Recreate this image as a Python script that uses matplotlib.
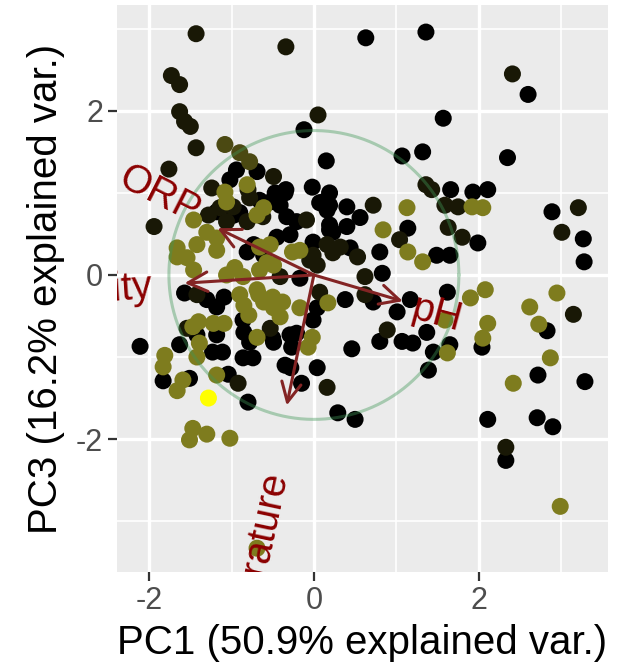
import numpy as np
import matplotlib.pyplot as plt
from matplotlib.colors import LinearSegmentedColormap

# PCA scores (PC1, PC3) and the colour variable (0 = black ... 1 = yellow)
pc1 = [-1.43, -1.73, -1.63, -1.63, -1.57, -1.50, -1.43, -1.76, -1.08, -0.90, -0.78, -0.94, -0.69, -0.49, -0.81, -1.02, -1.24, -1.08,
       -0.34, 0.63, 1.36, 0.05, -0.12, 0.15, 1.07, 1.32, 1.57, 1.36, -0.02, -0.34, 2.41, 2.60, 2.35, 1.66, 1.93, 2.11,
       2.89, 3.21, 3.01, 3.27, 3.28, 1.99, 1.65, 1.80, 1.63, 1.75, 1.92, 2.05, 2.08, 1.90, 2.11, 2.04, 2.05, 2.62, 2.95,
       3.15, 2.83, 2.73, 2.87, 2.72, 2.42, 3.29, 1.65, 1.62, 1.59, 1.62, 2.11, 2.71, 2.90, 2.33, 2.33, 2.99, -0.69,
       -2.11, -1.81, -1.83, -1.83, -1.51, -1.59, -1.66, -1.28, -0.92, -1.04, -1.18, -0.80, -1.47, -1.30, -1.51, -1.02,
       -1.63, -1.39, -1.42, -1.23, -1.11, -0.86, -0.74, -0.50, -0.27, -0.28, -0.15, 0.04, 0.16, 0.29, 0.50, -0.02, -0.07,
       0.46, 0.80, 0.89, 1.07, 1.20, 1.39, 1.45,
       -1.94, -1.66, -1.54, -1.46, -1.66, -1.42, -1.30, -1.18, -1.18, -1.46, -1.28, -1.18, -1.06, -0.97, -1.06, -0.78,
       -0.69, -0.61, -0.53, -0.81, -0.73, -0.53, -0.81, -0.61, -0.49, -1.06, -0.96, -1.57, -1.42, -1.30, -1.09, -1.18,
       -0.90, -0.85, -0.67, -0.79, -0.61, -0.49, -1.40, -1.22, -1.09, -1.54, -1.42, -1.18, -0.85, -0.78, -0.53, -0.49,
       0.56, 0.72, 1.13, 1.14, 0.84, 1.04, 1.14, 1.32, 1.49, -0.09, 0.11, 0.19, 0.19, 0.23, 0.44, 0.53, 0.80, 0.83,
       0.62, 0.62, 0.72, 0.38, 0.17, 1.17, 1.01, -0.29, -0.35, 1.37, -0.26, -0.01, 0.04, 0.07, 0.04, -0.17, -0.38,
       0.16, -0.01, -0.29, -0.21, -0.41,
       -0.47, -0.35, -0.66, -0.62, -0.33, -0.45, -0.17, -0.05, 0.07, 0.16, 0.19, -0.98, -0.90, -0.80, -1.14, -0.66,
       -0.57, -0.86, -0.66, -0.41, -0.17, -0.69, -0.50, -0.41, -0.01, -0.86, -0.69, -0.21, -1.47, 0.19, 0.40, 0.40,
       0.32, 0.23, 1.43, 1.59]
pc3 = [2.94, 2.43, 2.32, 1.99, 1.87, 1.81, 1.55, 1.29, 1.59, 1.49, 1.38, 1.28, 1.26, 1.20, 1.10, 1.16, 1.06, 1.01,
       2.78, 2.89, 2.96, 1.95, 1.77, 1.39, 1.45, 1.50, 1.91, 1.10, 1.07, 1.04, 2.45, 2.20, 1.43, 1.04, 1.01, 1.04,
       0.77, 0.82, 0.52, 0.44, 0.16, 0.39, 0.24, 0.46, 0.58, 0.83, 0.83, 0.82, -0.18, -0.28, -0.59, -0.88, -0.77, -0.39, -0.22,
       -0.48, -0.68, -0.60, -1.01, -1.22, -1.32, -1.30, -0.85, -0.95, -0.55, -0.21, -1.76, -1.74, -1.85, -2.26, -2.10, -2.82, -3.33,
       -0.87, -0.98, -1.12, -1.29, -1.26, -1.28, -1.41, -1.50, -1.32, -1.21, -1.22, -1.55, -1.87, -1.94, -2.01, -1.99,
       -0.85, -0.83, -1.00, -0.94, -0.94, -1.01, -1.01, -0.77, -0.88, -1.13, -1.32, -1.13, -1.37, -1.68, -1.76, -0.76, -0.88,
       -0.90, -0.81, -0.67, -0.81, -0.83, -1.16, -0.94,
       0.59, 0.33, 0.21, 0.06, 0.22, 0.37, 0.52, 0.45, 0.30, 0.67, 0.73, 0.77, 0.65, 0.73, 0.89, 0.94,
       0.73, 0.82, 0.89, 0.65, 0.37, 0.37, 0.28, 0.24, 0.12, 0.00, 0.09, -0.22, -0.24, -0.30, -0.27, -0.39,
       -0.24, -0.37, -0.24, -0.49, -0.33, -0.40, -0.57, -0.59, -0.59, -0.65, -0.73, -0.73, -0.70, -0.82, -0.65, -0.82,
       0.70, 0.85, 0.82, 0.57, 0.55, 0.43, 0.28, 0.16, 0.24, 0.67, 0.89, 0.85, 0.61, 0.52, 0.33, 0.22, 0.28, 0.02,
       -0.02, -0.24, -0.33, -0.30, -0.34, -0.30, -0.45, -0.73, -1.10, -0.70, 0.28, 0.24, 0.12, -0.21, -0.40, -0.40, -0.33,
       0.37, 0.40, 0.49, 0.65, 0.85,
       1.00, 1.00, 0.91, 0.71, 0.71, 0.46, 0.30, 0.18, 0.88, 0.79, 0.55, 0.83, 0.76, 1.04, 0.82, 0.34,
       0.15, -0.02, 0.06, -0.02, -0.04, -0.18, -0.27, -0.51, -0.55, -0.55, -0.76, -0.71, -0.63, 1.00, 0.83, 0.59,
       0.34, 0.27, 1.04, 0.85]
shade = [.1, .1, .1, .1, .1, .1, .1, .1, .3, .3, .3, 0, 0, .1, .5, 0, .1, .5,
         .1, 0, 0, .1, 0, 0, 0, 0, 0, .1, 0, 0, .1, 0, 0, 0, 0, 0,
         0, .1, .1, 0, 0, 0, 0, .1, .1, .1, .5, .5, .5, .5, .5, 0, .5, .5, .5,
         .1, 0, .5, .5, 0, .5, 0, 0, .5, .5, 0, 0, 0, 0, 0, .1, .5, .5,
         0, .5, .5, 0, 0, .5, .5, 1, .1, 0, .5, 0, .5, .5, .5, .5,
         0, .5, .5, 0, 0, 0, 0, 0, 0, 0, 0, 0, .1, 0, 0, .5, .5,
         0, 0, .1, 0, 0, 0, 0,
         .1, .5, .5, .5, .5, .5, .5, .5, .5, .5, .1, 0, .1, 0, .5, .1,
         .5, .5, 0, .1, 0, .5, 0, 0, .5, .5, .5, 0, .1, 0, 0, 0,
         .5, .5, .5, .5, .5, .5, .5, .5, .5, .1, 0, 0, 0, 0, .1, 0,
         0, .1, .5, 0, .5, .1, .5, .5, 0, .1, 0, 0, 0, 0, 0, .1, 0, 0,
         .1, .1, 0, 0, .5, 0, 0, 0, 0, 0, .5, .1, .1, .1, 0, .5, .5,
         .1, 0, 0, 0, 0,
         0, 0, 0, .1, 0, 0, .5, .1, 0, 0, 0, .1, 0, .1, .1, .5,
         .5, .5, .5, .1, 0, .5, .5, .5, 0, 0, .5, 0, .5, 0, 0, 0,
         .1, .1, .1, .1]

# variable loadings (arrow tips)
var_names = ['ORP', 'Conductivity', 'pH', 'Temperature']
load_pc1 = [-1.17, -1.57, 1.08, -0.33]
load_pc3 = [0.57, -0.10, -0.32, -1.59]
circle_r = 1.76

plt.rcParams['font.family'] = 'Liberation Sans'
plt.rcParams['axes.unicode_minus'] = False

pc1 = np.array(pc1)
pc3 = np.array(pc3)
shade = np.array(shade)
order = np.argsort(shade, kind='stable')

cmap = LinearSegmentedColormap.from_list('blk_yel', ['#000000', '#7d7b1e', '#ffff00'])

fig = plt.figure(figsize=(6.32, 6.72), dpi=100)
ax = fig.add_axes([117/632, 100/672, 491/632, 567/672])
ax.set_facecolor('#EBEBEB')
for s in ax.spines.values():
    s.set_visible(False)

ax.set_xlim(-2.39, 3.57)
ax.set_ylim(-3.62, 3.29)
ax.set_xticks([-2, 0, 2])
ax.set_yticks([-2, 0, 2])
ax.set_xticks([-1, 1, 3], minor=True)
ax.set_yticks([-3, -1, 1, 3], minor=True)
ax.grid(which='major', color='white', lw=2.4)
ax.grid(which='minor', color='white', lw=1.2)
ax.set_axisbelow(True)
ax.tick_params(which='major', labelsize=22, labelcolor='#4D4D4D', color='#333333', length=6.5, width=1.6)
ax.tick_params(which='minor', length=0)

ax.scatter(pc1[order], pc3[order], c=shade[order], cmap=cmap, vmin=0, vmax=1, s=150, linewidths=0, zorder=3)

theta = np.linspace(0, 2 * np.pi, 300)
ax.plot(circle_r * np.cos(theta), circle_r * np.sin(theta), color='#3f9656', alpha=0.4, lw=2.2, zorder=4)

for i in range(len(var_names)):
    ax.annotate('', xy=(load_pc1[i], load_pc3[i]), xytext=(0, 0),
                arrowprops=dict(arrowstyle='->,head_length=0.7,head_width=0.35', mutation_scale=20,
                                color='#832424', lw=2.2, shrinkA=0, shrinkB=0), zorder=5)

ax.text(-1.88, 0.98, 'ORP', rotation=-27, ha='center', va='center', rotation_mode='anchor',
        color='darkred', fontsize=28.5, clip_on=True, zorder=6)
ax.text(-1.97, -0.15, 'Conductivity', rotation=4, ha='right', va='center', rotation_mode='anchor',
        color='darkred', fontsize=28.5, clip_on=True, zorder=6)
ax.text(1.19, -0.40, 'pH', rotation=-15, ha='left', va='center', rotation_mode='anchor',
        color='darkred', fontsize=28.5, clip_on=True, zorder=6)
ax.text(-0.45, -2.42, 'Temperature', rotation=78, ha='right', va='center', rotation_mode='anchor',
        color='darkred', fontsize=28.5, clip_on=True, zorder=6)

ax.set_xlabel('PC1 (50.9% explained var.)', fontsize=29, labelpad=6)
ax.set_ylabel('PC3 (16.2% explained var.)', fontsize=29, labelpad=8)

fig.savefig('out.png', dpi=100)
